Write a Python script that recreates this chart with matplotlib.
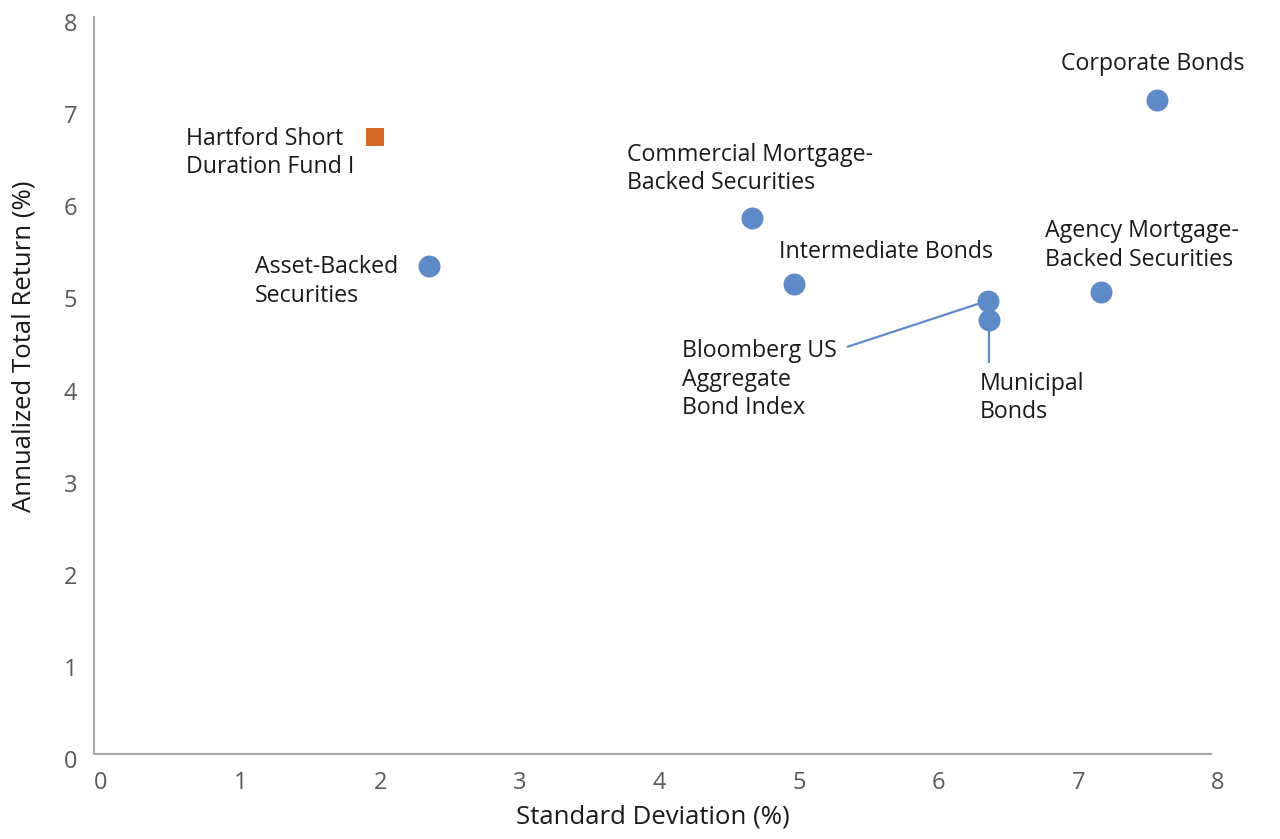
import matplotlib
matplotlib.use("Agg")
import matplotlib.pyplot as plt
import matplotlib.transforms as mtransforms

plt.rcParams['font.family'] = ['Open Sans', 'DejaVu Sans']

# Data
names = ["Asset-Backed\nSecurities", "Commercial Mortgage-\nBacked Securities", "Intermediate Bonds",
         "Bloomberg US\nAggregate\nBond Index", "Municipal\nBonds", "Agency Mortgage-\nBacked Securities",
         "Corporate Bonds"]
std_dev = [2.40, 4.71, 5.01, 6.40, 6.41, 7.21, 7.61]
returns = [5.30, 5.82, 5.10, 4.92, 4.71, 5.01, 7.10]

fund_name = "Hartford Short\nDuration Fund I"
fund_std = [2.01]
fund_ret = [6.70]

x_ticks = [0, 1, 2, 3, 4, 5, 6, 7, 8]
y_ticks = [0, 1, 2, 3, 4, 5, 6, 7, 8]

# label offsets in pixels (text block center-left relative to point)
label_offsets = [(-174, -16), (-125, 49), (-15, 32), (-306, -79), (-9, -78), (-56, 47), (-96, 36)]
connectors = {3: (-140, -46), 4: (0, -42)}

blue = "#5F8AC8"
orange = "#D4692A"

fig = plt.figure(figsize=(12.8, 8.39), dpi=100)
ax = fig.add_axes([94/1280, 1 - 754/839, (1211-94)/1280, (754-17)/839])

for i, off in connectors.items():
    ax.annotate("", xy=(std_dev[i], returns[i]), xytext=off, textcoords='offset pixels',
                arrowprops=dict(arrowstyle='-', color=blue, lw=1.6, shrinkA=0, shrinkB=0), zorder=2)

ax.scatter(std_dev, returns, s=250, color=blue, zorder=3, linewidths=0)
ax.scatter(fund_std, fund_ret, s=180, color=orange, marker='s', zorder=3, linewidths=0)

fs = 16.7
for n, x, y, off in zip(names, std_dev, returns, label_offsets):
    ax.annotate(n, xy=(x, y), xytext=off, textcoords='offset pixels', ha='left', va='center',
                fontsize=fs, color='#1a1a1a', linespacing=1.25)
ax.annotate(fund_name, xy=(fund_std[0], fund_ret[0]), xytext=(-189, -16), textcoords='offset pixels',
            ha='left', va='center', fontsize=fs, color='#1a1a1a', linespacing=1.25)

ax.set_xlim(0, 8)
ax.set_ylim(0, 8)
ax.set_xticks(x_ticks)
ax.set_yticks(y_ticks)
ax.tick_params(length=0, labelsize=17, labelcolor='#595959', pad=12)
for lab in ax.get_xticklabels():
    lab.set_transform(lab.get_transform() + mtransforms.ScaledTranslation(7/100, 0, fig.dpi_scale_trans))
for lab in ax.get_yticklabels():
    lab.set_transform(lab.get_transform() + mtransforms.ScaledTranslation(0, -5/100, fig.dpi_scale_trans))

for s in ['top', 'right']:
    ax.spines[s].set_visible(False)
for s in ['left', 'bottom']:
    ax.spines[s].set_color('#a6a6a6')
    ax.spines[s].set_linewidth(1.5)

ax.set_xlabel("Standard Deviation (%)", fontsize=18.5, color='#1a1a1a')
ax.set_ylabel("Annualized Total Return (%)", fontsize=18.5, color='#1a1a1a')
ax.xaxis.set_label_coords(0.5, -(805-754)/737)
ax.yaxis.set_label_coords(-(94-37)/1117, (754-346)/737)

fig.savefig("out.png", dpi=100)
